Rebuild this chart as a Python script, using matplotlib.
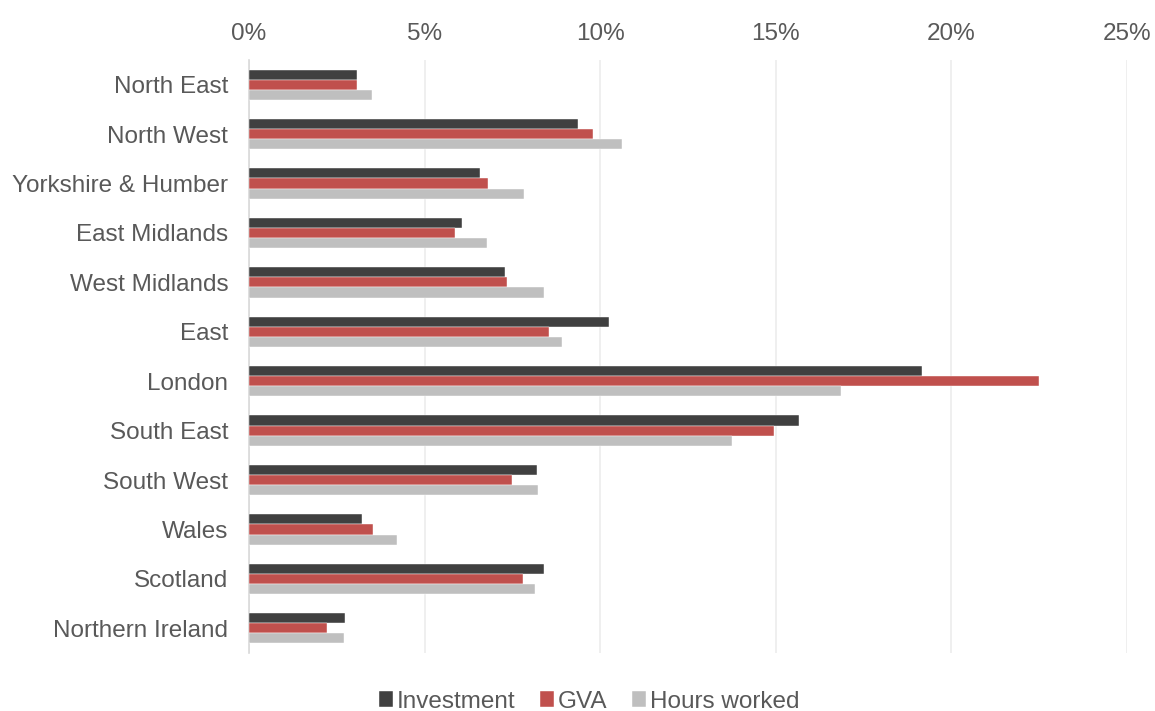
import matplotlib
matplotlib.use("Agg")
import matplotlib.pyplot as plt
import numpy as np

regions = ["North East", "North West", "Yorkshire & Humber", "East Midlands",
           "West Midlands", "East", "London", "South East", "South West",
           "Wales", "Scotland", "Northern Ireland"]

# regional shares, percent
investment = [3.07, 9.37, 6.57, 6.06, 7.29, 10.24, 19.15, 15.65, 8.20, 3.21, 8.40, 2.72]
gva = [3.07, 9.80, 6.81, 5.87, 7.34, 8.54, 22.48, 14.95, 7.50, 3.52, 7.80, 2.22]
hours_worked = [3.50, 10.62, 7.82, 6.78, 8.40, 8.90, 16.85, 13.75, 8.24, 4.21, 8.14, 2.71]

series = [("Investment", investment, "#404040"),
          ("GVA", gva, "#c0504d"),
          ("Hours worked", hours_worked, "#bfbfbf")]

plt.rcParams["font.family"] = ["Liberation Sans", "DejaVu Sans"]
text_col = "#595959"

fig = plt.figure(figsize=(11.55, 7.11), dpi=100)
ax = fig.add_axes([0.2156, 0.0816, 0.7602, 0.834])

y = np.arange(len(regions))
h = 0.205
for i, (name, vals, col) in enumerate(series):
    ax.barh(y + (i - 1) * h, vals, height=h, color=col, label=name,
            edgecolor="white", linewidth=0.3, zorder=3)

ax.set_xlim(0, 25)
ax.set_ylim(len(regions) - 0.5, -0.5)
ax.set_yticks(y)
ax.set_yticklabels(regions)
ax.set_xticks(np.arange(0, 26, 5))
ax.set_xticklabels([f"{v}%" for v in range(0, 26, 5)])
ax.xaxis.tick_top()
ax.tick_params(axis="both", length=0, labelsize=17.5, colors=text_col)
ax.tick_params(axis="x", pad=11)
ax.tick_params(axis="y", pad=15)

ax.grid(axis="x", color="#ececec", linewidth=1.2, zorder=0)
for s in ["top", "right", "bottom"]:
    ax.spines[s].set_visible(False)
ax.spines["left"].set_color("#d9d9d9")
ax.spines["left"].set_linewidth(1.2)

leg = fig.legend(loc="lower center", bbox_to_anchor=(0.51, -0.033), ncol=3,
                 frameon=False, fontsize=17.5, handlelength=0.6, handleheight=0.6,
                 handletextpad=0.15, columnspacing=1.0)
for t in leg.get_texts():
    t.set_color(text_col)

fig.savefig("out.png", dpi=100)
